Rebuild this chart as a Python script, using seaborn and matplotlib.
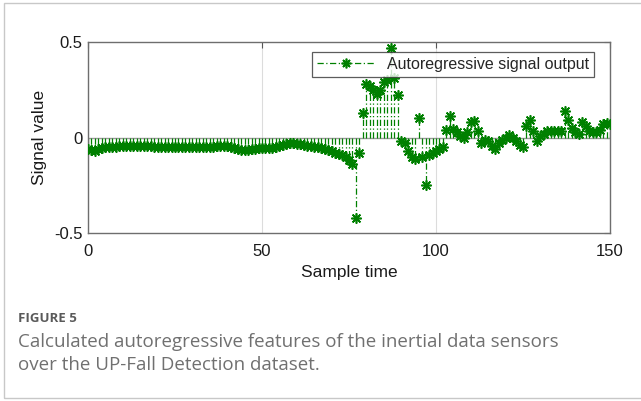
import numpy as np
import pandas as pd
import matplotlib
matplotlib.use("Agg")
import matplotlib.pyplot as plt
import seaborn as sns
from matplotlib.lines import Line2D
from matplotlib.patches import Rectangle

sample_time = list(range(0, 151))
signal_value = [
    -0.060, -0.065, -0.070, -0.060, -0.055, -0.050, -0.050, -0.050, -0.048, -0.047,
    -0.047, -0.046, -0.046, -0.045, -0.045, -0.044, -0.045, -0.046, -0.047, -0.048,
    -0.050, -0.050, -0.051, -0.052, -0.052, -0.051, -0.050, -0.050, -0.049, -0.048,
    -0.048, -0.048, -0.049, -0.050, -0.050, -0.049, -0.048, -0.047, -0.046, -0.046,
    -0.047, -0.050, -0.055, -0.060, -0.065, -0.068, -0.066, -0.062, -0.058, -0.055,
    -0.053, -0.055, -0.056, -0.055, -0.050, -0.045, -0.038, -0.032, -0.028, -0.030,
    -0.035, -0.036, -0.040, -0.042, -0.045, -0.050, -0.052, -0.056, -0.060, -0.065,
    -0.072, -0.080, -0.085, -0.090, -0.100, -0.120, -0.140, -0.420, -0.080, 0.130,
    0.280, 0.270, 0.250, 0.230, 0.250, 0.290, 0.300, 0.470, 0.310, 0.220,
    -0.020, -0.030, -0.070, -0.100, -0.110, 0.100, -0.100, -0.250, -0.090, -0.080,
    -0.070, -0.060, -0.050, 0.040, 0.110, 0.045, 0.030, 0.010, 0.000, 0.030,
    0.080, 0.085, 0.035, -0.030, -0.015, -0.020, -0.045, -0.060, -0.030, -0.015,
    0.000, 0.015, 0.000, -0.020, -0.040, -0.050, 0.060, 0.090, 0.035, -0.020,
    0.010, 0.020, 0.035, 0.035, 0.035, 0.035, 0.035, 0.140, 0.090, 0.050,
    0.030, 0.020, 0.080, 0.060, 0.035, 0.030, 0.030, 0.040, 0.070, 0.075,
    0.070,
]
x_ticks = [0, 50, 100, 150]
y_ticks = [-0.5, 0, 0.5]
y_tick_labels = ["-0.5", "0", "0.5"]
series_label = "Autoregressive signal output"

df = pd.DataFrame({"t": sample_time, "v": signal_value})

sns.set_style("white")
plt.rcParams["font.family"] = ["Liberation Sans", "DejaVu Sans"]

W, H = 641, 401
fig = plt.figure(figsize=(W / 100, H / 100), dpi=100)

# card border
fig.patches.append(Rectangle((4 / W, 3 / H), 1.2, 1 - 6 / H, transform=fig.transFigure,
                             fill=False, edgecolor="#c8c8c8", linewidth=1.0))

ax = fig.add_axes([88 / W, 1 - 233 / H, 522 / W, 191 / H])
green = "#008000"
dashdot = (0, (5, 2, 1, 2))

ax.axhline(0, color="#9a9a9a", lw=1.0, zorder=1)
ax.vlines(df["t"], 0, df["v"], colors=green, linestyles=dashdot, lw=0.9, zorder=2)
sns.scatterplot(data=df, x="t", y="v", ax=ax, marker=(8, 2, 0), s=46,
                color=green, edgecolor=green, linewidth=1.2, zorder=3, legend=False)

ax.set_xlim(0, 150)
ax.set_ylim(-0.5, 0.5)
ax.set_xticks(x_ticks)
ax.set_xticklabels([str(v) for v in x_ticks])
ax.set_yticks(y_ticks)
ax.set_yticklabels(y_tick_labels)
ax.tick_params(direction="in", length=4, top=True, right=True, labelsize=12,
               color="#555555", labelcolor="#1a1a1a")
ax.tick_params(axis="x", pad=8)
ax.tick_params(axis="y", pad=4)
ax.xaxis.grid(True, color="#dcdcdc", lw=0.8)
ax.yaxis.grid(False)
for sp in ax.spines.values():
    sp.set_color("#6e6e6e")
    sp.set_linewidth(1.0)

ax.set_xlabel("Sample time", fontsize=12.5, color="#1a1a1a", labelpad=4)
ax.set_ylabel("Signal value", fontsize=12.5, color="#1a1a1a", labelpad=5)

handle = Line2D([], [], color=green, linestyle=dashdot, lw=0.9,
                marker=(8, 2, 0), markersize=7, markeredgewidth=1.2)
leg = ax.legend([handle], [series_label], loc="upper right",
                bbox_to_anchor=(594 / W, 1 - 52 / H), bbox_transform=fig.transFigure,
                fontsize=11.5, frameon=True, fancybox=False, borderpad=0.3,
                handlelength=3.6, handletextpad=0.8, borderaxespad=0)
leg.get_frame().set_edgecolor("#333333")
leg.get_frame().set_linewidth(0.9)

cap_font = ["Open Sans", "DejaVu Sans"]
fig.text(18 / W, 1 - 318 / H, "FIGURE 5", family=cap_font, fontsize=9.5, weight="bold",
         color="#5a5a5a", va="center", ha="left")
fig.text(18 / W, 1 - 342 / H, "Calculated autoregressive features of the inertial data sensors",
         family=cap_font, fontsize=13.5, color="#707070", va="center", ha="left")
fig.text(18 / W, 1 - 365 / H, "over the UP-Fall Detection dataset.",
         family=cap_font, fontsize=13.5, color="#707070", va="center", ha="left")

fig.savefig("out.png", dpi=100)
